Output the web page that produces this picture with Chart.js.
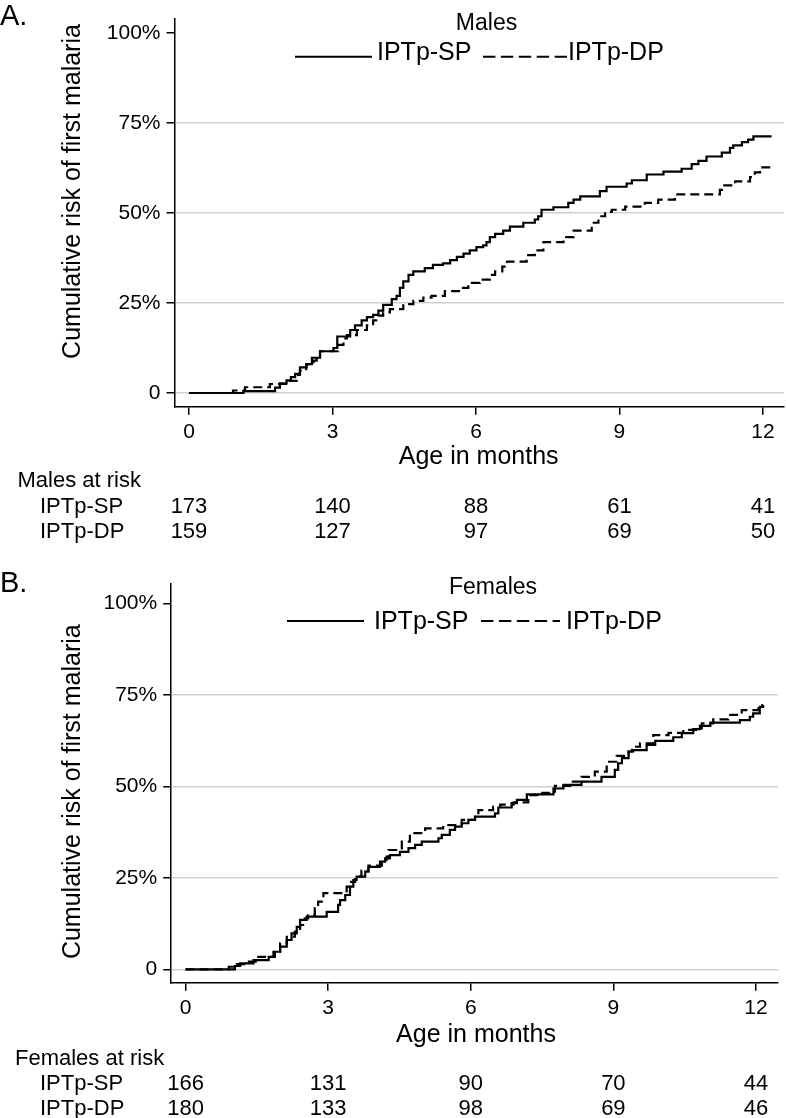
<!DOCTYPE html>
<html>
<head>
<meta charset="utf-8">
<script src="https://cdn.jsdelivr.net/npm/chart.js@4.4.1/dist/chart.umd.min.js"></script>
<style>
  html, body { margin: 0; padding: 0; background: #fff; }
  #wrap { position: relative; width: 786px; height: 1118px; }
  canvas { position: absolute; left: 0; }
</style>
</head>
<body>
<div id="wrap">
  <canvas id="chartA" width="786" height="560" style="top:0"></canvas>
  <canvas id="chartB" width="786" height="558" style="top:560px"></canvas>
</div>
<script>
// tick labels
const monthTicks = [0, 3, 6, 9, 12];
const riskTicks = [0, 25, 50, 75, 100];
const groups = ['IPTp-SP', 'IPTp-DP'];

// Males - cumulative risk (%) after each step, time in months
const maleSPTime = [0, 1.14, 1.8, 1.9, 2.04, 2.13, 2.22, 2.32, 2.46, 2.57, 2.74, 3.02, 3.1, 3.37, 3.47, 3.61, 3.72, 3.85, 3.96, 4.06, 4.24, 4.34, 4.41, 4.48, 4.59, 4.69, 4.93, 5.1, 5.31, 5.46, 5.6, 5.74, 5.87, 6.01, 6.15, 6.22, 6.29, 6.4, 6.57, 6.71, 6.99, 7.23, 7.3, 7.37, 7.62, 7.93, 8.04, 8.18, 8.59, 8.73, 9.15, 9.26, 9.57, 9.92, 10.3, 10.51, 10.65, 10.82, 11.14, 11.31, 11.38, 11.56, 11.69, 11.8, 12.18];
const maleSPRisk = [0, 0.5, 1.5, 2.7, 3.5, 4.4, 5.3, 7.1, 8, 9.8, 11.6, 12.5, 15.7, 17.5, 18.8, 20.2, 21.1, 21.7, 22.9, 24.5, 26.1, 27, 29.2, 31, 32.8, 33.8, 34.7, 35.6, 36, 36.9, 37.8, 38.7, 39.6, 40.5, 41, 41.9, 43.3, 44.2, 45.1, 46.2, 47.3, 48.2, 49.1, 50.9, 51.6, 52.8, 53.7, 54.6, 56.1, 57.3, 58.2, 59.1, 60.7, 61.5, 62.3, 63.6, 64.5, 65.7, 66.8, 68.1, 68.8, 69.7, 70.4, 71.3, 71.3];
const maleDPTime = [0, 0.92, 1.17, 1.69, 2.05, 2.25, 2.32, 2.45, 2.6, 2.67, 2.74, 3.12, 3.23, 3.3, 3.51, 3.72, 3.85, 3.96, 4.06, 4.2, 4.48, 4.69, 4.9, 5.07, 5.35, 5.67, 5.84, 6.08, 6.29, 6.4, 6.55, 6.65, 7.06, 7.23, 7.41, 7.83, 8.04, 8.42, 8.56, 8.7, 8.84, 9.12, 9.53, 9.81, 10.16, 11.1, 11.17, 11.42, 11.73, 11.83, 11.94, 12.18];
const maleDPRisk = [0, 0.7, 1.6, 2.5, 3.4, 5, 6.2, 8, 9, 10.2, 11.6, 13.4, 15.2, 16.1, 17.5, 18.8, 20.2, 21.5, 22.4, 23.3, 24.7, 25.6, 26.5, 27, 28.3, 29.2, 30.6, 31.5, 32.8, 33.8, 35.1, 36.5, 38.3, 39.6, 41.9, 43.3, 45.1, 47.3, 49.1, 50.3, 50.9, 51.8, 52.8, 53.7, 55.2, 56.4, 57.7, 58.8, 60, 61.3, 62.7, 62.7];

// Females
const femaleSPTime = [0, 1.04, 1.15, 1.43, 1.75, 1.88, 1.99, 2.13, 2.23, 2.34, 2.41, 2.55, 2.97, 3.21, 3.25, 3.36, 3.46, 3.53, 3.6, 3.78, 3.85, 4.09, 4.2, 4.3, 4.51, 4.69, 4.83, 4.97, 5.32, 5.39, 5.56, 5.67, 5.81, 5.95, 6.09, 6.51, 6.58, 6.86, 6.97, 7.18, 7.74, 7.95, 8.33, 8.75, 9.03, 9.1, 9.18, 9.32, 9.42, 9.7, 9.88, 10.26, 10.44, 10.68, 10.82, 11.04, 11.66, 11.87, 11.94, 12.08, 12.15];
const femaleSPRisk = [0, 0.9, 1.6, 2.5, 3.4, 4.8, 6.2, 8, 9.8, 11.6, 13.5, 14.4, 15.7, 17.6, 18.9, 20.3, 22.6, 24.4, 25.3, 26.7, 28, 29.4, 30.3, 31.2, 32.1, 33.1, 34, 34.9, 35.8, 36.7, 38.1, 39, 39.9, 40.8, 41.7, 42.6, 44.2, 45.4, 46.3, 47.8, 49.4, 50.4, 51.3, 52.6, 54.5, 56.3, 57.7, 59.5, 59.9, 61.3, 62.4, 63.4, 64.5, 65.6, 66.5, 67.4, 68.1, 69, 69.9, 71.7, 72.2];
const femaleDPTime = [0, 0.91, 1.08, 1.3, 1.53, 1.85, 1.99, 2.13, 2.3, 2.41, 2.51, 2.58, 2.72, 2.79, 2.9, 3.39, 3.46, 3.57, 3.7, 3.85, 4.13, 4.23, 4.27, 4.55, 4.72, 5.04, 5.42, 5.81, 6.09, 6.16, 6.47, 6.62, 6.9, 7.21, 7.4, 7.77, 8.09, 8.33, 8.61, 8.86, 9.07, 9.32, 9.39, 9.56, 9.84, 10.16, 10.47, 10.86, 11.1, 11.42, 11.7, 12.05, 12.15];
const femaleDPRisk = [0, 0.7, 1.4, 2.1, 3.4, 4.8, 7.1, 8.9, 10.3, 12.1, 13.9, 14.8, 16.7, 18.5, 20.8, 22.6, 23.9, 25.3, 27, 28.3, 29.9, 30.8, 32.6, 34.9, 37.2, 38.5, 39.4, 40.8, 42.2, 43.5, 44.4, 45, 45.6, 47.6, 48.2, 50.1, 51.3, 52.6, 54, 56.7, 58.3, 59.5, 60.8, 61.7, 64, 64.6, 65.4, 67.2, 68.3, 69.5, 70.8, 72.2, 72.2];

// numbers at risk at monthTicks
const maleAtRiskSP = [173, 140, 88, 61, 41];
const maleAtRiskDP = [159, 127, 97, 69, 50];
const femaleAtRiskSP = [166, 131, 90, 70, 44];
const femaleAtRiskDP = [180, 133, 98, 69, 46];

const FONT = '"Liberation Sans", Arial, Helvetica, sans-serif';
const font = size => size + 'px ' + FONT;

function toPoints(times, risks) {
    return times.map((t, i) => ({ x: t, y: risks[i] }));
}

// Draws the panel letter, title, legend, axis titles and at-risk table
function panelText(o) {
    return {
        id: 'panelText',
        afterDraw(chart) {
            const ctx = chart.ctx;
            const xs = chart.scales.x;
            ctx.save();
            ctx.fillStyle = '#000';
            ctx.strokeStyle = '#000';
            ctx.textBaseline = 'alphabetic';

            ctx.font = font(29);
            ctx.textAlign = 'left';
            ctx.fillText(o.letter, 0, o.letterY);

            ctx.font = font(23);
            ctx.textAlign = 'center';
            ctx.fillText(o.title, o.titleX, o.titleY);

            // legend
            ctx.lineWidth = 2;
            ctx.beginPath();
            ctx.moveTo(o.leg[0], o.legLineY);
            ctx.lineTo(o.leg[1], o.legLineY);
            ctx.stroke();
            ctx.setLineDash([12.4, 5.5]);
            ctx.beginPath();
            ctx.moveTo(o.leg[3], o.legLineY);
            ctx.lineTo(o.leg[4], o.legLineY);
            ctx.stroke();
            ctx.setLineDash([]);
            ctx.font = font(25);
            ctx.textAlign = 'left';
            ctx.fillText(groups[0], o.leg[2], o.legTextY);
            ctx.fillText(groups[1], o.leg[5], o.legTextY);

            // y title
            ctx.save();
            ctx.translate(o.yTitleX, o.yTitleY);
            ctx.rotate(-Math.PI / 2);
            ctx.textAlign = 'center';
            ctx.textBaseline = 'middle';
            ctx.font = font(25);
            ctx.fillText('Cumulative risk of first malaria', 0, 0);
            ctx.restore();

            // x title
            ctx.font = font(25);
            ctx.textAlign = 'center';
            ctx.fillText('Age in months', o.xTitleX, o.xTitleY);

            // at-risk table
            ctx.font = font(22);
            ctx.textAlign = 'left';
            ctx.fillText(o.riskLabel, o.riskLabelX, o.riskY[0]);
            ctx.fillText(groups[0], 40, o.riskY[1]);
            ctx.fillText(groups[1], 40, o.riskY[2]);
            ctx.textAlign = 'center';
            monthTicks.forEach((m, i) => {
                const px = xs.getPixelForValue(m);
                ctx.fillText(String(o.atRisk[0][i]), px, o.riskY[1]);
                ctx.fillText(String(o.atRisk[1][i]), px, o.riskY[2]);
            });
            ctx.restore();
        }
    };
}

function makeChart(id, o) {
    const canvas = document.getElementById(id);
    return new Chart(canvas.getContext('2d'), {
        type: 'line',
        data: {
            datasets: [{
                label: groups[0],
                data: toPoints(o.sp[0], o.sp[1]),
                borderColor: '#000',
                borderWidth: 2.2,
                pointRadius: 0,
                stepped: true,
                fill: false
            }, {
                label: groups[1],
                data: toPoints(o.dp[0], o.dp[1]),
                borderColor: '#000',
                borderWidth: 2.2,
                borderDash: [9, 5],
                pointRadius: 0,
                stepped: true,
                fill: false
            }]
        },
        options: {
            responsive: false,
            animation: false,
            devicePixelRatio: 1,
            layout: { padding: { left: 0, right: 786 - o.area.right, top: o.area.top, bottom: 0 } },
            plugins: { legend: { display: false }, tooltip: { enabled: false } },
            scales: {
                x: {
                    type: 'linear',
                    min: o.xMin,
                    max: o.xMax,
                    afterBuildTicks: s => { s.ticks = monthTicks.map(v => ({ value: v })); },
                    afterFit: s => { s.height = canvas.height - o.area.bottom; },
                    ticks: { color: '#000', font: { family: FONT, size: 21 }, padding: 5, autoSkip: false, maxRotation: 0 },
                    grid: { drawOnChartArea: false, tickColor: '#000', tickLength: 8, lineWidth: 1.5 },
                    border: { color: '#000', width: 1.5 }
                },
                y: {
                    type: 'linear',
                    min: o.yMin,
                    max: o.yMax,
                    afterBuildTicks: s => { s.ticks = riskTicks.map(v => ({ value: v })); },
                    afterFit: s => { s.width = o.area.left; },
                    ticks: {
                        color: '#000',
                        font: { family: FONT, size: 21 },
                        padding: 6,
                        autoSkip: false,
                        callback: v => v === 0 ? '0' : v + '%'
                    },
                    grid: {
                        color: c => (c.tick && c.tick.value < 100) ? '#cfcfcf' : 'rgba(0,0,0,0)',
                        lineWidth: 1.5,
                        tickColor: '#000',
                        tickLength: 8
                    },
                    border: { color: '#000', width: 1.5 }
                }
            }
        },
        plugins: [panelText(o)]
    });
}

makeChart('chartA', {
    sp: [maleSPTime, maleSPRisk],
    dp: [maleDPTime, maleDPRisk],
    atRisk: [maleAtRiskSP, maleAtRiskDP],
    area: { left: 174.5, top: 9.6, right: 784, bottom: 406.7 },
    xMin: -0.303, xMax: 12.44, yMin: -3.8, yMax: 104,
    letter: 'A.', letterY: 25,
    title: 'Males', titleX: 486.5, titleY: 29.5,
    leg: [295, 372, 377, 483, 567, 568], legLineY: 56.7, legTextY: 60,
    yTitleX: 73, yTitleY: 191.5,
    xTitleX: 478.7, xTitleY: 464.3,
    riskLabel: 'Males at risk', riskLabelX: 17.5, riskY: [487, 513, 538]
});

makeChart('chartB', {
    sp: [femaleSPTime, femaleSPRisk],
    dp: [femaleDPTime, femaleDPRisk],
    atRisk: [femaleAtRiskSP, femaleAtRiskDP],
    area: { left: 171.2, top: 23.3, right: 778, bottom: 422.7 },
    xMin: -0.301, xMax: 12.463, yMin: -3.66, yMax: 105.46,
    letter: 'B.', letterY: 32,
    title: 'Females', titleX: 493, titleY: 34,
    leg: [287, 364, 374, 481, 560, 566], legLineY: 61, legTextY: 69,
    yTitleX: 73.3, yTitleY: 231.7,
    xTitleX: 476, xTitleY: 482,
    riskLabel: 'Females at risk', riskLabelX: 15, riskY: [505, 530, 555]
});
</script>
</body>
</html>
